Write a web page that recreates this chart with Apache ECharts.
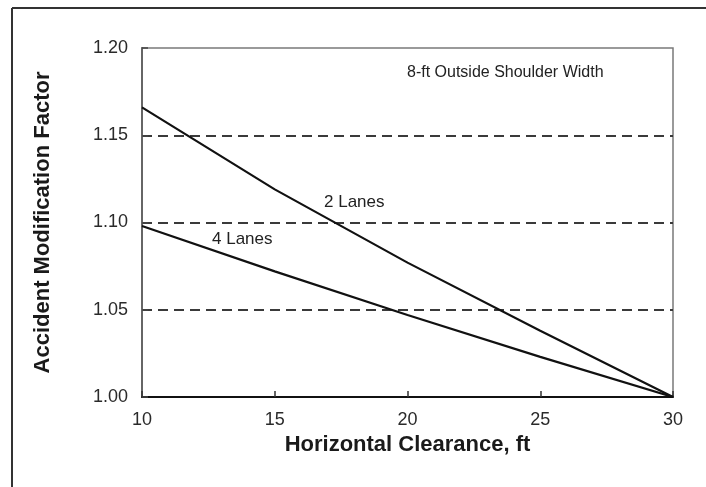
<!DOCTYPE html>
<html>
<head>
<meta charset="utf-8">
<script src="https://cdn.jsdelivr.net/npm/echarts@6/dist/echarts.min.js"></script>
<style>
  html, body { margin: 0; padding: 0; background: #fff; }
  #chart { width: 706px; height: 487px; }
</style>
</head>
<body>
<div id="chart"></div>
<script>
// Horizontal clearance (ft) and the accident modification factor for each lane count
const clearance = [10, 15, 20, 25, 30];
const amfTwoLanes = [1.166, 1.119, 1.077, 1.038, 1.00];
const amfFourLanes = [1.098, 1.072, 1.047, 1.023, 1.00];
const seriesNames = ['2 Lanes', '4 Lanes'];
const xTicks = { min: 10, max: 30, step: 5 };
const yTicks = { min: 1.0, max: 1.2, step: 0.05 };

const font = 'Liberation Sans, Arial, sans-serif';

const pairs = (xs, ys) => xs.map((x, i) => [x, ys[i]]);

const chart = echarts.init(document.getElementById('chart'), null, { renderer: 'canvas' });

chart.setOption({
  animation: false,
  backgroundColor: '#ffffff',
  textStyle: { fontFamily: font },
  grid: {
    left: 142, right: 33, top: 48, bottom: 90,
    show: true,
    borderColor: '#7a7a7a',
    borderWidth: 1.5,
    backgroundColor: 'transparent'
  },
  xAxis: {
    type: 'value',
    min: xTicks.min, max: xTicks.max, interval: xTicks.step,
    name: 'Horizontal Clearance, ft',
    nameLocation: 'middle',
    nameGap: 35,
    nameTextStyle: { fontSize: 22, fontWeight: 'bold', color: '#1a1a1a', fontFamily: font },
    axisLine: { show: true, lineStyle: { color: '#111', width: 2 } },
    axisTick: { show: true, inside: true, length: 6, lineStyle: { color: '#333', width: 1.5 } },
    axisLabel: { fontSize: 18, color: '#2a2a2a', margin: 14, fontFamily: font },
    splitLine: { show: false }
  },
  yAxis: {
    type: 'value',
    min: yTicks.min, max: yTicks.max, interval: yTicks.step,
    name: 'Accident Modification Factor',
    nameLocation: 'middle',
    nameGap: 88,
    nameTextStyle: { fontSize: 22, fontWeight: 'bold', color: '#1a1a1a', fontFamily: font },
    axisLine: { show: true, lineStyle: { color: '#666', width: 2 } },
    axisTick: { show: true, inside: true, length: 6, lineStyle: { color: '#444', width: 1.5 } },
    axisLabel: {
      fontSize: 18, color: '#2a2a2a', margin: 14, fontFamily: font,
      formatter: v => v.toFixed(2)
    },
    splitLine: {
      show: true,
      showMinLine: false,
      showMaxLine: false,
      lineStyle: { color: '#3a3a3a', width: 2, type: [10, 6] }
    }
  },
  series: [
    {
      name: seriesNames[0],
      type: 'line',
      data: pairs(clearance, amfTwoLanes),
      symbol: 'none',
      lineStyle: { color: '#111', width: 2.2 },
      z: 5
    },
    {
      name: seriesNames[1],
      type: 'line',
      data: pairs(clearance, amfFourLanes),
      symbol: 'none',
      lineStyle: { color: '#111', width: 2.2 },
      z: 5
    }
  ],
  graphic: [
    // outer frame around the figure (top and left edges)
    { type: 'line', shape: { x1: 12, y1: 8, x2: 706, y2: 8 }, style: { stroke: '#333', lineWidth: 2 }, silent: true },
    { type: 'line', shape: { x1: 12, y1: 8, x2: 12, y2: 487 }, style: { stroke: '#333', lineWidth: 2 }, silent: true },
    { type: 'text', left: 407, top: 65, style: { text: '8-ft Outside Shoulder Width', font: '16px ' + font, fill: '#222' } },
    { type: 'text', left: 324, top: 194, style: { text: seriesNames[0], font: '17px ' + font, fill: '#222' } },
    { type: 'text', left: 212, top: 231, style: { text: seriesNames[1], font: '17px ' + font, fill: '#222' } }
  ]
});
</script>
</body>
</html>
